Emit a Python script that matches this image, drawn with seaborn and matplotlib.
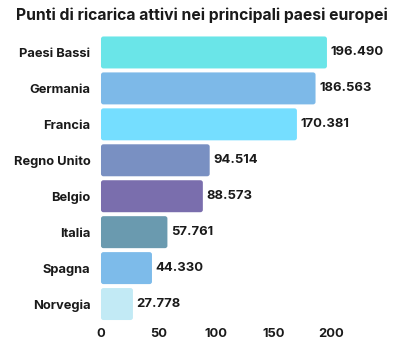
import matplotlib
matplotlib.use("Agg")
import matplotlib.pyplot as plt
from matplotlib.patches import FancyBboxPatch
import seaborn as sns
import pandas as pd

# Charging points per country (thousands)
countries = ["Paesi Bassi", "Germania", "Francia", "Regno Unito",
             "Belgio", "Italia", "Spagna", "Norvegia"]
values = [196.490, 186.563, 170.381, 94.514, 88.573, 57.761, 44.330, 27.778]
value_labels = ["196.490", "186.563", "170.381", "94.514",
                "88.573", "57.761", "44.330", "27.778"]
colors = ["#6AE5E8", "#7DB9E8", "#75DEFF", "#7990C2",
          "#7A6EAD", "#6A9AAF", "#7DBBEA", "#C2EAF5"]
x_ticks = [0, 50, 100, 150, 200]

sns.set_theme(style="white")
plt.rcParams["font.family"] = ["Inter", "DejaVu Sans"]

df = pd.DataFrame({"paese": countries, "punti": values})

fig = plt.figure(figsize=(4.03, 3.47), dpi=100)
ax = fig.add_axes([0.2506, 0.072, 0.8213 - 0.2506, 0.9006 - 0.072])

sns.barplot(data=df, x="punti", y="paese", hue="paese", palette=colors,
            legend=False, width=0.89, ax=ax, saturation=1)

# replace plain rectangles with slightly rounded ones
for patch in list(ax.patches):
    x, y = patch.get_x(), patch.get_y()
    w, h = patch.get_width(), patch.get_height()
    fc = patch.get_facecolor()
    patch.remove()
    ax.add_patch(FancyBboxPatch((x, y), w, h,
                                boxstyle="round,pad=0,rounding_size=2.2",
                                mutation_aspect=0.03, facecolor=fc,
                                edgecolor="none", clip_on=False))

for i, (v, lab) in enumerate(zip(values, value_labels)):
    ax.text(v + 3, i, lab, va="center", ha="left", fontsize=9.4,
            fontweight="bold", color="#1a1a1a", clip_on=False)

ax.set_xlim(0, 200)
ax.set_ylim(7.5, -0.5)
ax.set_xticks(x_ticks)
ax.set_xticklabels([str(t) for t in x_ticks])
ax.set_xlabel("")
ax.set_ylabel("")
for s in ax.spines.values():
    s.set_visible(False)
ax.tick_params(axis="y", length=0, pad=7.5, labelsize=9.3, labelcolor="#1a1a1a")
ax.tick_params(axis="x", length=0, pad=4, labelsize=9.3, labelcolor="#1a1a1a")
for lab in ax.get_xticklabels() + ax.get_yticklabels():
    lab.set_fontweight("bold")

fig.text(0.5, 0.955, "Punti di ricarica attivi nei principali paesi europei",
         ha="center", va="center", fontsize=11.3, fontweight="bold",
         color="#1a1a1a")

fig.savefig("out.png", dpi=100, facecolor="white")
